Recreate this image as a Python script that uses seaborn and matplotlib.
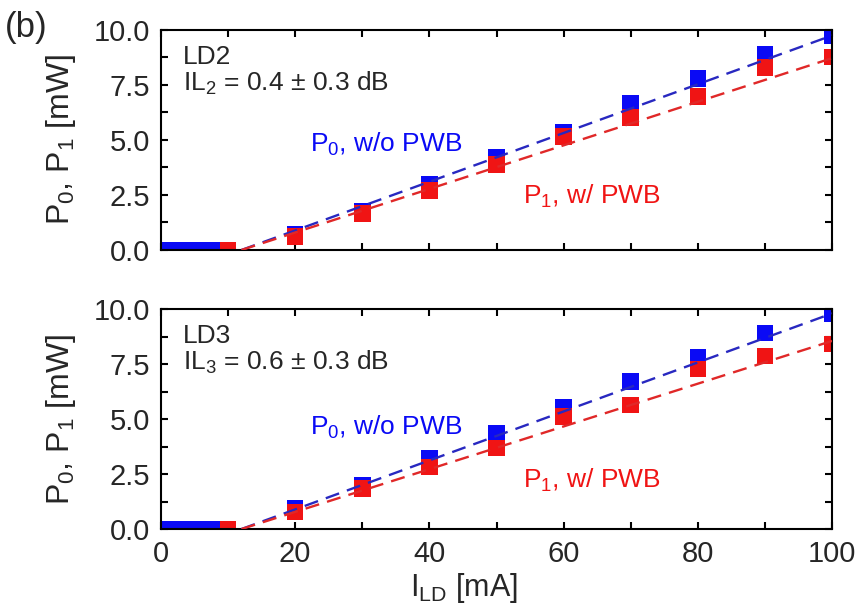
import matplotlib.pyplot as plt
import seaborn as sns
from matplotlib.ticker import MultipleLocator, FormatStrFormatter

# values
ld2_x_p0 = [0, 1, 2, 3, 4, 5, 6, 7, 8, 9, 10, 20, 30, 40, 50, 60, 70, 80, 90, 100]
ld2_p0 = [0, 0, 0, 0, 0, 0, 0, 0, 0, 0, 0, 0.72, 1.78, 2.98, 4.20, 5.36, 6.65, 7.80, 8.90, 9.75]
ld2_x_p1 = [10, 20, 30, 40, 50, 60, 70, 80, 90, 100]
ld2_p1 = [0, 0.62, 1.66, 2.70, 3.88, 5.16, 6.03, 6.97, 8.30, 8.78]

ld3_x_p0 = [0, 1, 2, 3, 4, 5, 6, 7, 8, 9, 10, 20, 30, 40, 50, 60, 70, 80, 90, 100]
ld3_p0 = [0, 0, 0, 0, 0, 0, 0, 0, 0, 0, 0, 0.95, 2.00, 3.20, 4.35, 5.55, 6.70, 7.83, 8.90, 9.80]
ld3_x_p1 = [10, 20, 30, 40, 50, 60, 70, 80, 90, 100]
ld3_p1 = [0, 0.78, 1.85, 2.82, 3.68, 5.12, 5.64, 7.27, 7.86, 8.40]

# linear fits (dashed), endpoints
fit_x = [12, 100]
ld2_fit_p0 = [0, 9.75]
ld2_fit_p1 = [0, 8.72]
ld3_fit_p0 = [0, 9.80]
ld3_fit_p1 = [0, 8.55]

panels = [
    ("LD2\nIL$_2$ = 0.4 ± 0.3 dB", ld2_x_p0, ld2_p0, ld2_x_p1, ld2_p1, ld2_fit_p0, ld2_fit_p1),
    ("LD3\nIL$_3$ = 0.6 ± 0.3 dB", ld3_x_p0, ld3_p0, ld3_x_p1, ld3_p1, ld3_fit_p0, ld3_fit_p1),
]

BLUE = "#0a0af5"
RED = "#f01414"
BLUE_LINE = "#2828c0"
RED_LINE = "#e02828"

sns.set_theme(style="ticks")
plt.rcParams["font.family"] = ["Liberation Sans", "DejaVu Sans"]
plt.rcParams["mathtext.fontset"] = "custom"
plt.rcParams["mathtext.rm"] = "Liberation Sans"
plt.rcParams["mathtext.it"] = "Liberation Sans:italic"
plt.rcParams["mathtext.default"] = "rm"

fig = plt.figure(figsize=(8.59, 6.16), dpi=100)
ax_top = fig.add_axes([0.1874, 0.5942, 0.7812, 0.3571])
ax_bot = fig.add_axes([0.1874, 0.1412, 0.7812, 0.3571])

for ax, (info, x0, p0, x1, p1, f0, f1) in zip([ax_top, ax_bot], panels):
    sns.scatterplot(x=x0, y=p0, ax=ax, marker="s", s=140, color=BLUE,
                    edgecolor="none", linewidth=0, zorder=2)
    sns.scatterplot(x=x1, y=p1, ax=ax, marker="s", s=140, color=RED,
                    edgecolor="none", linewidth=0, zorder=2)
    sns.lineplot(x=fit_x, y=f0, ax=ax, color=BLUE_LINE, lw=1.7,
                 linestyle=(0, (6, 3.5)), zorder=3)
    sns.lineplot(x=fit_x, y=f1, ax=ax, color=RED_LINE, lw=1.7,
                 linestyle=(0, (6, 3.5)), zorder=3)

    ax.set_xlim(0, 100)
    ax.set_ylim(0, 10)
    ax.xaxis.set_major_locator(MultipleLocator(20))
    ax.xaxis.set_minor_locator(MultipleLocator(10))
    ax.yaxis.set_major_locator(MultipleLocator(2.5))
    ax.yaxis.set_minor_locator(MultipleLocator(1.25))
    ax.yaxis.set_major_formatter(FormatStrFormatter("%.1f"))
    ax.tick_params(which="both", direction="in", top=True, right=True,
                   length=5, width=1.5, color="black")
    ax.tick_params(which="major", labelsize=21, pad=8)
    for sp in ax.spines.values():
        sp.set_linewidth(1.5)
        sp.set_color("black")

    ax.set_ylabel("P$_0$, P$_1$ [mW]", fontsize=23)
    ax.yaxis.set_label_coords(-0.124, 0.5)

    ax.text(3.3, 9.3, info, fontsize=19, va="top", linespacing=1.0)

ax_top.tick_params(labelbottom=False)
ax_top.text(22.2, 4.45, "P$_0$, w/o PWB", color=BLUE, fontsize=19, va="baseline")
ax_top.text(54.0, 2.1, "P$_1$, w/ PWB", color=RED, fontsize=19, va="baseline")
ax_bot.text(22.2, 4.3, "P$_0$, w/o PWB", color=BLUE, fontsize=19, va="baseline")
ax_bot.text(54.0, 1.86, "P$_1$, w/ PWB", color=RED, fontsize=19, va="baseline")

ax_bot.set_xlabel("I$_{\\mathrm{LD}}$ [mA]", fontsize=22)
ax_bot.xaxis.set_label_coords(0.4516, -0.19)

fig.text(0.006, 0.94, "(b)", fontsize=25, va="baseline")

fig.savefig("out.png", dpi=100)
